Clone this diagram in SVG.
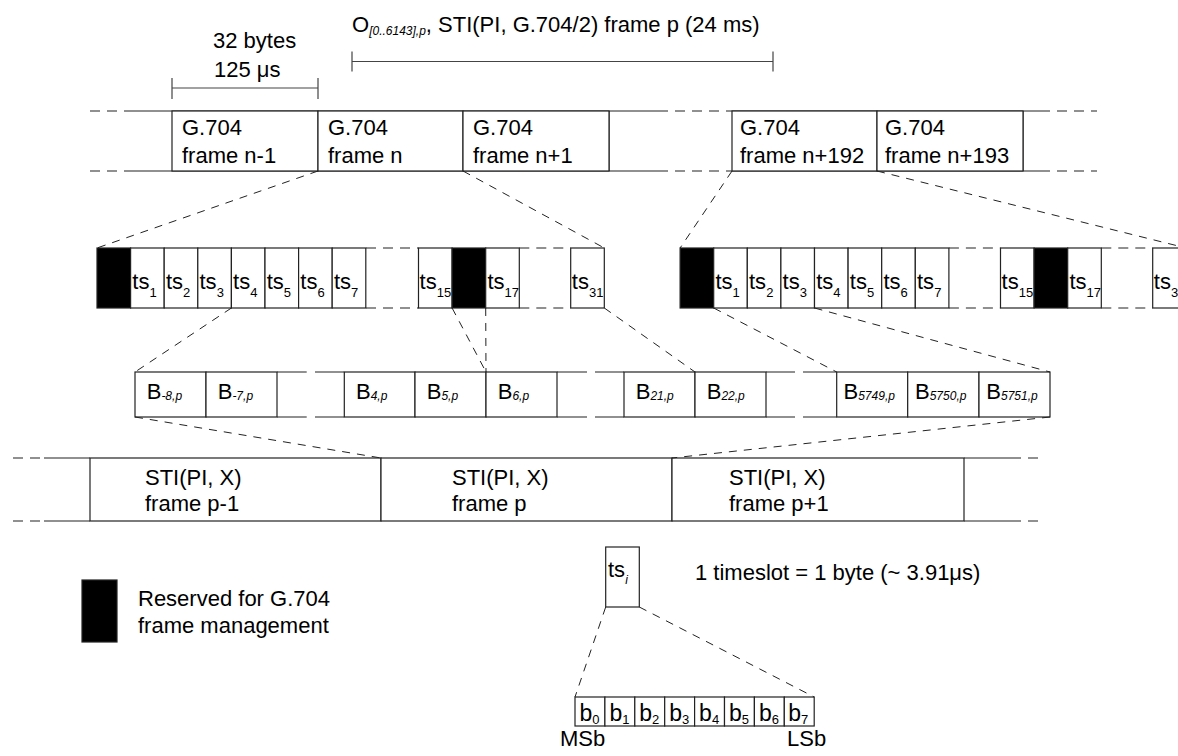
<svg xmlns="http://www.w3.org/2000/svg" width="1178" height="756" viewBox="0 0 1178 756">
<style>
.t{font-family:"Liberation Sans",Arial,sans-serif;font-size:22px;fill:#000}
.s{font-size:13px}
.is{font-size:12px;font-style:italic}
.bt{font-size:23px}
.box{fill:#fff;stroke:#222;stroke-width:1.2}
.blk{fill:#000;stroke:#222;stroke-width:1.2}
.ln{stroke:#222;stroke-width:1.2;fill:none}
.gr{stroke:#444;stroke-width:1.2;fill:none}
.dl{stroke:#222;stroke-width:1.2;stroke-dasharray:10 7;fill:none}
.cn{stroke:#222;stroke-width:1;stroke-dasharray:8 7;fill:none}
</style>
<rect width="1178" height="756" fill="#fff"/>

<g id="title">
<text class="t" x="352" y="32">O<tspan class="is" dy="3">[0..6143],p</tspan><tspan dy="-3">, STI(PI, G.704/2) frame p (24 ms)</tspan></text>
<path class="gr" d="M352,61.5H773M352,51.5V71.5M773,51.5V71.5"/>
</g>
<g id="g704-duration">
<text class="t" x="213" y="48">32 bytes</text>
<text class="t" x="214" y="77">125 μs</text>
<path class="gr" d="M172,88H318M172,78V99M318,78V99"/>
</g>

<g id="g704-row">
<path class="dl" d="M90,111H130M90,171H130M658,111H732M658,171H732M1040,111H1097M1040,171H1097"/>
<path class="ln" d="M130,111H658M130,171H658M732,111H1040M732,171H1040M609,111V171M1023,111V171"/>
<g id="frame-n-1"><rect class="box" x="172" y="111" width="146" height="60"/><text class="t" x="182" y="135">G.704</text><text class="t" x="182" y="163">frame n-1</text></g>
<g id="frame-n"><rect class="box" x="318" y="111" width="145" height="60"/><text class="t" x="328" y="135">G.704</text><text class="t" x="328" y="163">frame n</text></g>
<g id="frame-n1"><rect class="box" x="463" y="111" width="146" height="60"/><text class="t" x="473" y="135">G.704</text><text class="t" x="473" y="163">frame n+1</text></g>
<g id="frame-n192"><rect class="box" x="732" y="111" width="145" height="60"/><text class="t" x="740" y="135">G.704</text><text class="t" x="740" y="163">frame n+192</text></g>
<g id="frame-n193"><rect class="box" x="877" y="111" width="146" height="60"/><text class="t" x="885" y="135">G.704</text><text class="t" x="885" y="163">frame n+193</text></g>
</g>

<g id="ts-row-left">
<path class="dl" d="M366,248H418.5M366,308H418.5M519.3,248H570.7M519.3,308H570.7"/>
<rect class="blk" x="97" y="248" width="33.6" height="60"/>
<rect class="box" x="130.6" y="248" width="33.6" height="60"/><text class="t" x="132.3" y="289">ts<tspan class="s" dy="8">1</tspan></text>
<rect class="box" x="164.2" y="248" width="33.6" height="60"/><text class="t" x="165.9" y="289">ts<tspan class="s" dy="8">2</tspan></text>
<rect class="box" x="197.8" y="248" width="33.6" height="60"/><text class="t" x="199.5" y="289">ts<tspan class="s" dy="8">3</tspan></text>
<rect class="box" x="231.4" y="248" width="33.6" height="60"/><text class="t" x="233.1" y="289">ts<tspan class="s" dy="8">4</tspan></text>
<rect class="box" x="265" y="248" width="33.6" height="60"/><text class="t" x="266.7" y="289">ts<tspan class="s" dy="8">5</tspan></text>
<rect class="box" x="298.6" y="248" width="33.6" height="60"/><text class="t" x="300.3" y="289">ts<tspan class="s" dy="8">6</tspan></text>
<rect class="box" x="332.2" y="248" width="33.6" height="60"/><text class="t" x="333.9" y="289">ts<tspan class="s" dy="8">7</tspan></text>
<rect class="box" x="418.5" y="248" width="33.6" height="60"/><text class="t" x="419.6" y="289">ts<tspan class="s" dy="8">15</tspan></text>
<rect class="blk" x="452.1" y="248" width="33.6" height="60"/>
<rect class="box" x="485.7" y="248" width="33.6" height="60"/><text class="t" x="487.4" y="289">ts<tspan class="s" dy="8">17</tspan></text>
<rect class="box" x="570.7" y="248" width="33.6" height="60"/><text class="t" x="571.8" y="289">ts<tspan class="s" dy="8">31</tspan></text>
</g>

<g id="ts-row-right">
<path class="dl" d="M948.9,248H1000.5M948.9,308H1000.5M1101.3,248H1152.7M1101.3,308H1152.7"/>
<rect class="blk" x="680.1" y="248" width="33.6" height="60"/>
<rect class="box" x="713.7" y="248" width="33.6" height="60"/><text class="t" x="715.4" y="289">ts<tspan class="s" dy="8">1</tspan></text>
<rect class="box" x="747.3" y="248" width="33.6" height="60"/><text class="t" x="749" y="289">ts<tspan class="s" dy="8">2</tspan></text>
<rect class="box" x="780.9" y="248" width="33.6" height="60"/><text class="t" x="782.6" y="289">ts<tspan class="s" dy="8">3</tspan></text>
<rect class="box" x="814.5" y="248" width="33.6" height="60"/><text class="t" x="816.2" y="289">ts<tspan class="s" dy="8">4</tspan></text>
<rect class="box" x="848.1" y="248" width="33.6" height="60"/><text class="t" x="849.8" y="289">ts<tspan class="s" dy="8">5</tspan></text>
<rect class="box" x="881.7" y="248" width="33.6" height="60"/><text class="t" x="883.4" y="289">ts<tspan class="s" dy="8">6</tspan></text>
<rect class="box" x="915.3" y="248" width="33.6" height="60"/><text class="t" x="917" y="289">ts<tspan class="s" dy="8">7</tspan></text>
<rect class="box" x="1000.5" y="248" width="33.6" height="60"/><text class="t" x="1001.6" y="289">ts<tspan class="s" dy="8">15</tspan></text>
<rect class="blk" x="1034.1" y="248" width="33.6" height="60"/>
<rect class="box" x="1067.7" y="248" width="33.6" height="60"/><text class="t" x="1069.4" y="289">ts<tspan class="s" dy="8">17</tspan></text>
<rect class="box" x="1152.7" y="248" width="33.6" height="60"/><text class="t" x="1153.8" y="289">ts<tspan class="s" dy="8">31</tspan></text>
</g>

<g id="b-row">
<path class="ln" d="M277,372H306.7M277,417H306.7M315,372H344.3M315,417H344.3M557,372H587M557,417H587M595,372H624M595,417H624M766,372H795M766,417H795M803,372H836.7M803,417H836.7"/>
<g id="b-8"><rect class="box" x="135" y="372" width="71" height="45"/><text class="t" x="146.7" y="399">B<tspan class="is" dy="1">-8,p</tspan></text></g>
<g id="b-7"><rect class="box" x="206" y="372" width="71" height="45"/><text class="t" x="217.7" y="399">B<tspan class="is" dy="1">-7,p</tspan></text></g>
<g id="b4"><rect class="box" x="344.3" y="372" width="70.7" height="45"/><text class="t" x="356" y="399">B<tspan class="is" dy="1">4,p</tspan></text></g>
<g id="b5"><rect class="box" x="415" y="372" width="71" height="45"/><text class="t" x="426.7" y="399">B<tspan class="is" dy="1">5,p</tspan></text></g>
<g id="b6"><rect class="box" x="486" y="372" width="71" height="45"/><text class="t" x="497.7" y="399">B<tspan class="is" dy="1">6,p</tspan></text></g>
<g id="b21"><rect class="box" x="624" y="372" width="71" height="45"/><text class="t" x="635.7" y="399">B<tspan class="is" dy="1">21,p</tspan></text></g>
<g id="b22"><rect class="box" x="695" y="372" width="71" height="45"/><text class="t" x="706.7" y="399">B<tspan class="is" dy="1">22,p</tspan></text></g>
<g id="b5749"><rect class="box" x="836.7" y="372" width="71" height="45"/><text class="t" x="843.5" y="399">B<tspan class="is" dy="1">5749,p</tspan></text></g>
<g id="b5750"><rect class="box" x="907.7" y="372" width="71.3" height="45"/><text class="t" x="915" y="399">B<tspan class="is" dy="1">5750,p</tspan></text></g>
<g id="b5751"><rect class="box" x="979" y="372" width="71" height="45"/><text class="t" x="986.3" y="399">B<tspan class="is" dy="1">5751,p</tspan></text></g>
</g>

<g id="sti-row">
<path class="dl" d="M13,458H44M13,521H44M1011,458H1043M1011,521H1043"/>
<path class="ln" d="M44,458H90M44,521H90M964,458H1011M964,521H1011"/>
<g id="sti-p-1"><rect class="box" x="90" y="458" width="291" height="63"/><text class="t" x="145" y="485">STI(PI, X)</text><text class="t" x="145" y="511">frame p-1</text></g>
<g id="sti-p"><rect class="box" x="381" y="458" width="291" height="63"/><text class="t" x="452" y="485">STI(PI, X)</text><text class="t" x="452" y="511">frame p</text></g>
<g id="sti-p1"><rect class="box" x="672" y="458" width="292" height="63"/><text class="t" x="729" y="485">STI(PI, X)</text><text class="t" x="729" y="511">frame p+1</text></g>
</g>

<g id="legend">
<rect class="blk" x="82" y="580" width="35" height="62"/>
<text class="t" x="138" y="606">Reserved for G.704</text>
<text class="t" x="138" y="633">frame management</text>
</g>

<g id="ts-i">
<rect class="box" x="605.7" y="547" width="33.6" height="60"/>
<text class="t" x="608" y="577">ts<tspan class="is" dy="7">i</tspan></text>
</g>
<text class="t" x="695" y="580">1 timeslot = 1 byte (~ 3.91μs)</text>

<g id="bits">
<rect class="box" x="575" y="697" width="29.9" height="29"/><text class="t bt" x="579.5" y="721">b<tspan class="s" dy="3">0</tspan></text>
<rect class="box" x="604.9" y="697" width="29.9" height="29"/><text class="t bt" x="609.4" y="721">b<tspan class="s" dy="3">1</tspan></text>
<rect class="box" x="634.8" y="697" width="29.9" height="29"/><text class="t bt" x="639.3" y="721">b<tspan class="s" dy="3">2</tspan></text>
<rect class="box" x="664.7" y="697" width="29.9" height="29"/><text class="t bt" x="669.2" y="721">b<tspan class="s" dy="3">3</tspan></text>
<rect class="box" x="694.6" y="697" width="29.9" height="29"/><text class="t bt" x="699.1" y="721">b<tspan class="s" dy="3">4</tspan></text>
<rect class="box" x="724.5" y="697" width="29.9" height="29"/><text class="t bt" x="729" y="721">b<tspan class="s" dy="3">5</tspan></text>
<rect class="box" x="754.4" y="697" width="29.9" height="29"/><text class="t bt" x="758.9" y="721">b<tspan class="s" dy="3">6</tspan></text>
<rect class="box" x="784.3" y="697" width="29.9" height="29"/><text class="t bt" x="788.3" y="721">b<tspan class="s" dy="3">7</tspan></text>
<text class="t" x="560" y="746">MSb</text>
<text class="t" x="787" y="746">LSb</text>
</g>

<g id="connectors">
<path class="cn" d="M318,171L97,248M463,171L604.3,248M732,171L680.1,248M877,171L1186.3,248"/>
<path class="cn" d="M231.4,308L135,372M452.1,308L486,372M485.7,308L486,372M604.3,308L695,372M713.7,308L836.7,372M814.5,308L1050,372"/>
<path class="cn" d="M135,417L381,458M1050,417L672,458"/>
<path class="cn" d="M605.7,607L575,697M639.3,607L814.2,697"/>
</g>
</svg>
